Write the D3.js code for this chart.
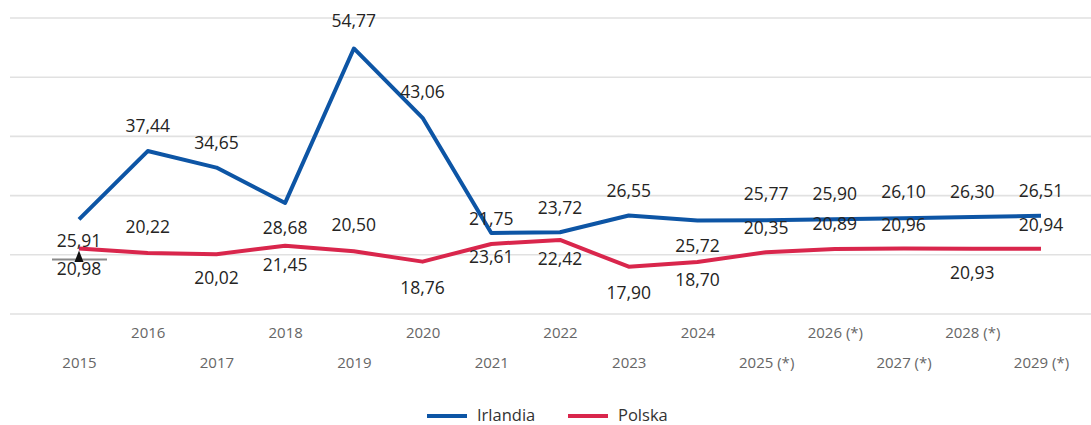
<!DOCTYPE html>
<html>
<head>
<meta charset="utf-8">
<script src="https://cdn.jsdelivr.net/npm/d3@7"></script>
<style>
  html, body { margin: 0; padding: 0; background: #fff; }
  svg { display: block; font-family: "Open Sans", "Noto Sans", sans-serif; }
</style>
</head>
<body>
<svg id="chart"></svg>
<script>
const years = ['2015', '2016', '2017', '2018', '2019', '2020', '2021', '2022',
               '2023', '2024', '2025 (*)', '2026 (*)', '2027 (*)', '2028 (*)', '2029 (*)'];
const irlandia = [25.91, 37.44, 34.65, 28.68, 54.77, 43.06, 23.61, 23.72,
                  26.55, 25.72, 25.77, 25.90, 26.10, 26.30, 26.51];
const polska = [20.98, 20.22, 20.02, 21.45, 20.50, 18.76, 21.75, 22.42,
                17.90, 18.70, 20.35, 20.89, 20.96, 20.93, 20.94];
const yTicks = [10, 20, 30, 40, 50, 60];

// label placement relative to the point (px, text centre)
const irlandiaLabelDy = [21, -26, -26, 24, -28, -27, 23, -25, -26, 25, -27, -26, -27, -26, -26];
const polskaLabelDy = [20, -27, 23, 18, -27, 25, -26, 18, 25, 17, -25, -26, -25, 23, -25];

const series = [
    { name: 'Irlandia', values: irlandia, dy: irlandiaLabelDy, colour: '#0d55a5' },
    { name: 'Polska', values: polska, dy: polskaLabelDy, colour: '#d9264c' }
];

const config = { width: 1091, height: 425, gridLeft: 10, xLeft: 79, xRight: 1041, yTop: 17.5, yBottom: 313.5 };

const svg = d3.select('#chart')
    .attr('width', config.width)
    .attr('height', config.height);

const xScale = d3.scalePoint()
    .domain(years)
    .range([config.xLeft, config.xRight]);

const yScale = d3.scaleLinear()
    .domain([10, 60])
    .range([config.yBottom, config.yTop]);

// horizontal grid lines
const yAxis = d3.axisLeft(yScale)
    .tickValues(yTicks)
    .tickSize(-(config.width - config.gridLeft))
    .tickFormat('');

svg.append('g')
    .attr('class', 'axis y-axis')
    .attr('transform', `translate(${config.gridLeft},0)`)
    .call(yAxis)
    .call(g => g.select('.domain').remove())
    .call(g => g.selectAll('.tick line').attr('stroke', '#e1e1e1').attr('stroke-width', 1.6));

// x axis, labels staggered on two rows
const xAxis = d3.axisBottom(xScale)
    .tickSize(0)
    .tickPadding(0);

svg.append('g')
    .attr('class', 'axis x-axis')
    .attr('transform', `translate(0,${config.yBottom})`)
    .call(xAxis)
    .call(g => g.select('.domain').remove())
    .call(g => g.selectAll('.tick text')
        .attr('fill', '#666666')
        .attr('font-size', 15)
        .attr('font-family', '"Open Sans", "Noto Sans", sans-serif')
        .attr('dy', null)
        .attr('dominant-baseline', 'central')
        .attr('y', (d, i) => i % 2 === 0 ? 48.5 : 18.5));

const line = d3.line()
    .x((d, i) => xScale(years[i]))
    .y(d => yScale(d));

const chart = svg.append('g');

series.forEach(s => {
    chart.append('path')
        .datum(s.values)
        .attr('fill', 'none')
        .attr('stroke', s.colour)
        .attr('stroke-width', 4)
        .attr('stroke-linejoin', 'round')
        .attr('d', line);
});

// marker at first point
const x0 = xScale(years[0]);
const yMark = yScale(polska[0]);
chart.append('line')
    .attr('x1', x0 - 27).attr('x2', x0 + 28)
    .attr('y1', yMark + 11).attr('y2', yMark + 11)
    .attr('stroke', '#8a8a8a')
    .attr('stroke-width', 2);
chart.append('path')
    .attr('d', `M${x0},${yMark + 2} L${x0 - 4.5},${yMark + 13.5} L${x0 + 4.5},${yMark + 13.5} Z`)
    .attr('fill', '#111');

// data labels
series.forEach(s => {
    chart.selectAll(null)
        .data(s.values)
        .join('text')
        .attr('x', (d, i) => xScale(years[i]))
        .attr('y', (d, i) => yScale(d) + s.dy[i])
        .attr('text-anchor', 'middle')
        .attr('dominant-baseline', 'central')
        .attr('font-size', 17.5)
        .attr('fill', '#252423')
        .text(d => d.toFixed(2).replace('.', ','));
});

// legend
const legend = svg.append('g')
    .attr('transform', 'translate(427,416)');

const legendItems = legend.selectAll('g')
    .data(series)
    .join('g')
    .attr('transform', (d, i) => `translate(${i * 141},0)`);

legendItems.append('line')
    .attr('x1', 0).attr('x2', 40)
    .attr('stroke', d => d.colour)
    .attr('stroke-width', 4);

legendItems.append('text')
    .attr('x', 50)
    .attr('y', 4.5)
    .attr('font-size', 16.5)
    .attr('fill', '#333')
    .text(d => d.name);
</script>
</body>
</html>
